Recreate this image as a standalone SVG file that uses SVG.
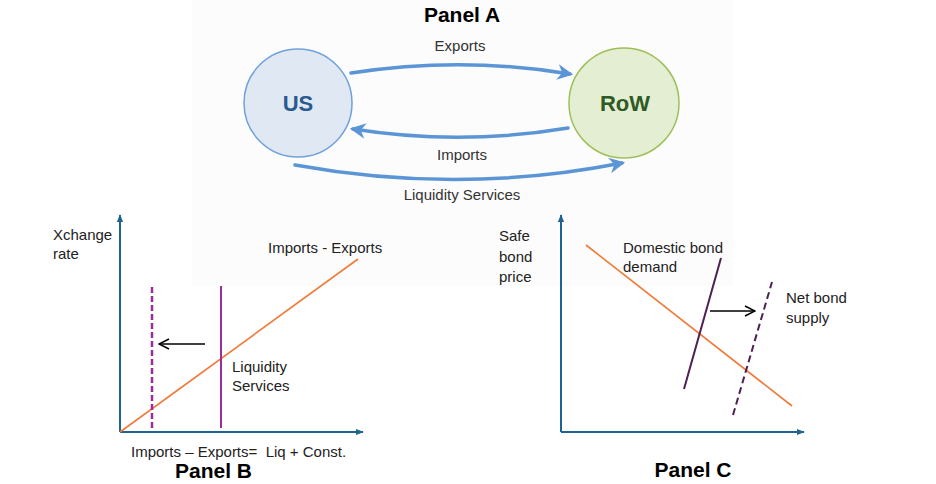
<svg xmlns="http://www.w3.org/2000/svg" width="936" height="484" viewBox="0 0 936 484">
<defs>
<style>
.t{font-family:"Liberation Sans",Arial,sans-serif;font-size:15px;fill:#222;white-space:pre}
.ta{font-family:"Liberation Sans",Arial,sans-serif;font-size:15px;fill:#333}
.title{font-family:"Liberation Sans",Arial,sans-serif;font-size:21px;font-weight:bold;fill:#000}
.flow{fill:none;stroke:#5b95d6;stroke-width:3.5;stroke-linecap:round}
.axis{fill:none;stroke:#1f6391;stroke-width:2}
.orange{fill:none;stroke:#f07a3a;stroke-width:1.6}
.blk{fill:none;stroke:#000;stroke-width:1.5}
</style>
<marker id="fa" viewBox="0 0 10 10" refX="8" refY="5" markerWidth="4.5" markerHeight="4.5" orient="auto" markerUnits="strokeWidth">
<path d="M0,0 L10,5 L0,10 L3,5 z" fill="#5b95d6"/>
</marker>
<marker id="ax" viewBox="0 0 10 10" refX="9" refY="5" markerWidth="4" markerHeight="4" orient="auto" markerUnits="strokeWidth">
<path d="M0,1 L10,5 L0,9 z" fill="#1f6391"/>
</marker>
<marker id="ba" viewBox="0 0 12 12" refX="11" refY="6" markerWidth="8" markerHeight="8" orient="auto" markerUnits="strokeWidth">
<path d="M1,1 L11,6 L1,11" fill="none" stroke="#000" stroke-width="1.5"/>
</marker>
</defs>
<rect width="936" height="484" fill="#fff"/>
<rect x="192" y="0" width="541" height="286" fill="#fcfcfc"/>

<text class="title" x="462" y="22" text-anchor="middle">Panel A</text>

<g id="us">
<circle cx="298" cy="103" r="54" fill="#dfe8f3" stroke="#6fa2da" stroke-width="1.5"/>
<text x="298" y="111" text-anchor="middle" font-family="Liberation Sans,Arial,sans-serif" font-weight="bold" font-size="22" fill="#2b5b8e">US</text>
</g>
<g id="row">
<circle cx="624" cy="103" r="55" fill="#e4eed2" stroke="#9dc05a" stroke-width="1.5"/>
<text x="625" y="111" text-anchor="middle" font-family="Liberation Sans,Arial,sans-serif" font-weight="bold" font-size="22" fill="#2f5a26">RoW</text>
</g>

<g id="flows">
<path class="flow" d="M351,73 Q462,56 570,74" marker-end="url(#fa)"/>
<path class="flow" d="M568,128 Q460,146 353,129" marker-end="url(#fa)"/>
<path class="flow" d="M295,165 Q460,195 622,163" marker-end="url(#fa)"/>
</g>
<text class="ta" x="460" y="51" text-anchor="middle">Exports</text>
<text class="ta" x="462" y="160" text-anchor="middle">Imports</text>
<text class="ta" x="462" y="200" text-anchor="middle">Liquidity Services</text>

<g id="panelB">
<path class="axis" d="M120,432 L120,215" marker-end="url(#ax)"/>
<path class="axis" d="M120,432 L363,432" marker-end="url(#ax)"/>
<line class="orange" x1="120" y1="432" x2="358" y2="259"/>
<line x1="221" y1="286" x2="221" y2="428" stroke="#9b2d9b" stroke-width="2"/>
<line x1="152" y1="287" x2="152" y2="429" stroke="#9b2d9b" stroke-width="2.5" stroke-dasharray="6,3"/>
<line class="blk" x1="205" y1="344" x2="159" y2="344" marker-end="url(#ba)"/>
<text class="t" x="53" y="240">Xchange</text>
<text class="t" x="53" y="259">rate</text>
<text class="t" x="268" y="253">Imports - Exports</text>
<text class="t" x="232" y="372">Liquidity</text>
<text class="t" x="232" y="391">Services</text>
<text class="t" x="131" y="457">Imports – Exports=  Liq + Const.</text>
<text class="title" x="175" y="478">Panel B</text>
</g>

<g id="panelC">
<path class="axis" d="M561,432 L561,215" marker-end="url(#ax)"/>
<path class="axis" d="M561,432 L804,432" marker-end="url(#ax)"/>
<line class="orange" x1="586" y1="245" x2="792" y2="406"/>
<line x1="684" y1="389" x2="721" y2="258" stroke="#4d1f52" stroke-width="2"/>
<line x1="733" y1="415" x2="772" y2="282" stroke="#4d1f52" stroke-width="2" stroke-dasharray="7,4"/>
<line class="blk" x1="710" y1="311" x2="755" y2="311" marker-end="url(#ba)"/>
<text class="t" x="499" y="241">Safe</text>
<text class="t" x="499" y="262">bond</text>
<text class="t" x="499" y="282">price</text>
<text class="t" x="623" y="253">Domestic bond</text>
<text class="t" x="623" y="272">demand</text>
<text class="t" x="786" y="303">Net bond</text>
<text class="t" x="786" y="323">supply</text>
<text class="title" x="693" y="477" text-anchor="middle">Panel C</text>
</g>
</svg>
